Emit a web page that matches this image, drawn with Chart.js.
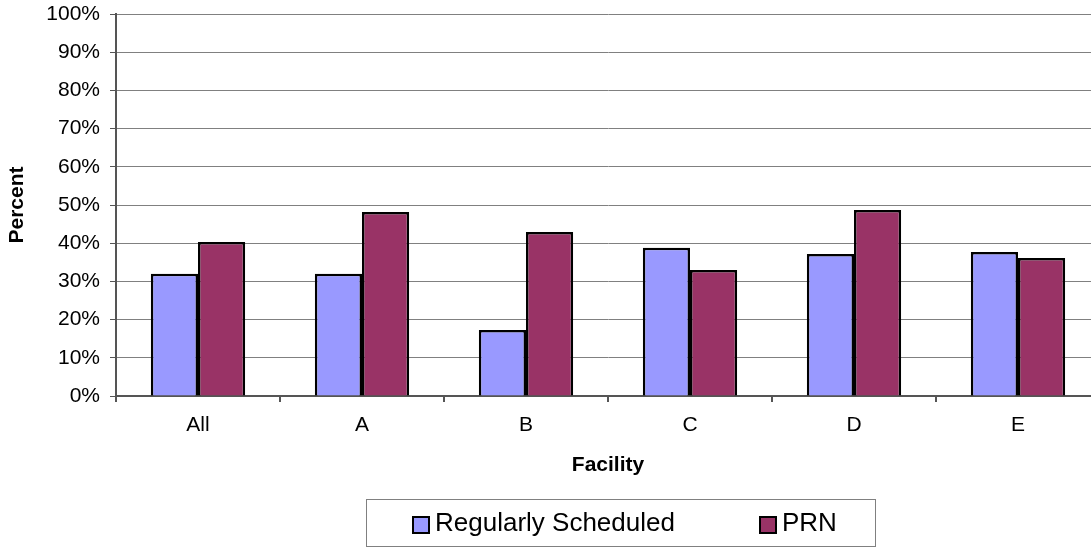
<!DOCTYPE html>
<html>
<head>
<meta charset="utf-8">
<script src="https://cdn.jsdelivr.net/npm/chart.js@4"></script>
<style>
  html, body { margin: 0; padding: 0; background: #fff; overflow: hidden; width: 1091px; height: 550px; }
  #wrap { position: absolute; left: 0; top: 0; width: 1100px; height: 550px; }
  #legend { position: absolute; left: 366px; top: 499px; width: 508px; height: 46px; border: 1px solid #808080; box-sizing: content-box;
            font-family: "Liberation Sans", Arial, sans-serif; font-size: 26px; color: #000; }
  .item { position: absolute; top: 0; height: 46px; line-height: 46px; white-space: nowrap; }
  .sw { position: absolute; top: 16px; width: 14px; height: 14px; border: 2px solid #000; }
  .lt { position: absolute; top: -1px; }
</style>
</head>
<body>
<div id="wrap"><canvas id="c" width="1100" height="550"></canvas></div>
<div id="legend"></div>
<script>
const categories = ["All", "A", "B", "C", "D", "E"];
const seriesNames = ["Regularly Scheduled", "PRN"];
const regularlyScheduled = [32.0, 32.0, 17.3, 38.8, 37.2, 37.7];
const prn = [40.3, 48.2, 42.9, 33.0, 48.7, 36.1];
const yTickValues = [0, 10, 20, 30, 40, 50, 60, 70, 80, 90, 100];
const colors = ["#9999FF", "#993366"];

const FONT = "'Liberation Sans', Arial, sans-serif";

const chart = new Chart(document.getElementById('c'), {
  type: 'bar',
  data: {
    labels: categories,
    datasets: [
      { label: seriesNames[0], data: regularlyScheduled, backgroundColor: colors[0], borderColor: '#000', borderWidth: 2.5 },
      { label: seriesNames[1], data: prn, backgroundColor: colors[1], borderColor: '#000', borderWidth: 2.5 }
    ]
  },
  options: {
    responsive: false,
    animation: false,
    devicePixelRatio: 1,
    layout: { padding: { top: 14, right: 0, bottom: 68, left: 0 } },
    datasets: { bar: { categoryPercentage: 0.575, barPercentage: 1.0 } },
    plugins: { legend: { display: false }, tooltip: { enabled: false } },
    scales: {
      x: {
        offset: true,
        grid: { offset: true, drawOnChartArea: false, drawTicks: true, tickLength: 6, tickColor: '#555', lineWidth: 2 },
        border: { color: '#555', width: 2 },
        ticks: { color: '#000', font: { family: FONT, size: 21 }, padding: 11, maxRotation: 0 },
        title: { display: true, text: 'Facility', color: '#000', font: { family: FONT, size: 21, weight: 'bold' }, padding: { top: 10, bottom: 4 } },
        afterFit: (s) => { s.height = 86; s.paddingLeft = 0; s.paddingRight = 0; }
      },
      y: {
        min: 0, max: 100,
        afterBuildTicks: (s) => { s.ticks = yTickValues.map(v => ({ value: v })); },
        grid: { color: '#808080', lineWidth: 1, drawTicks: true, tickLength: 6, tickColor: '#555' },
        border: { color: '#555', width: 2 },
        ticks: { color: '#000', font: { family: FONT, size: 21 }, padding: 10, callback: (v) => v + '%' },
        title: { display: true, text: 'Percent', color: '#000', font: { family: FONT, size: 21, weight: 'bold' }, padding: { top: 5, bottom: 4 } },
        afterFit: (s) => { s.width = 116; s.paddingTop = 0; s.paddingBottom = 0; }
      }
    }
  }
});

// HTML legend built from chart datasets
const legend = document.getElementById('legend');
const itemPos = [{ sw: 45, tx: 68 }, { sw: 392, tx: 415 }];
chart.data.datasets.forEach((ds, i) => {
  const it = document.createElement('div');
  it.className = 'item';
  const sw = document.createElement('div');
  sw.className = 'sw';
  sw.style.left = itemPos[i].sw + 'px';
  sw.style.background = ds.backgroundColor;
  const t = document.createElement('div');
  t.className = 'lt';
  t.style.left = itemPos[i].tx + 'px';
  t.textContent = ds.label;
  it.appendChild(sw);
  it.appendChild(t);
  legend.appendChild(it);
});
</script>
</body>
</html>
